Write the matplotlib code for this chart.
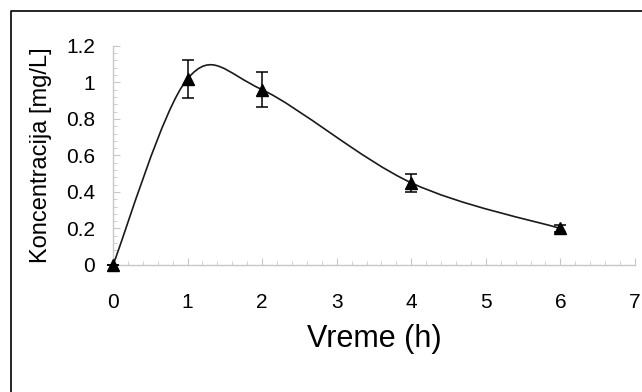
import matplotlib
matplotlib.use("Agg")
import matplotlib.pyplot as plt
import matplotlib.ticker as ticker
from matplotlib.path import Path
from matplotlib.patches import PathPatch
from matplotlib.lines import Line2D
import numpy as np

# podaci procitani sa grafika
vreme = [0, 1, 2, 4, 6]
koncentracija = [0.0, 1.02, 0.96, 0.45, 0.20]
sd = [0.0, 0.105, 0.095, 0.048, 0.02]

x_ticks = [0, 1, 2, 3, 4, 5, 6, 7]
y_ticks = [0, 0.2, 0.4, 0.6, 0.8, 1, 1.2]
y_tick_labels = ["0", "0.2", "0.4", "0.6", "0.8", "1", "1.2"]

plt.rcParams['font.family'] = ['Liberation Sans', 'DejaVu Sans']

fig = plt.figure(figsize=(6.42, 3.92), dpi=100)
ax = fig.add_axes([0.176, 0.324, 0.813, 0.559])

# glatka linija kao u Excel-u (Bezier kroz tacke)
pts = np.column_stack([vreme, koncentracija])
verts = [tuple(pts[0])]
codes = [Path.MOVETO]
n = len(pts)
for i in range(n - 1):
    p0 = pts[max(i - 1, 0)]
    p1 = pts[i]
    p2 = pts[i + 1]
    p3 = pts[min(i + 2, n - 1)]
    c1 = p1 + (p2 - p0) / 6
    c2 = p2 - (p3 - p1) / 6
    verts += [tuple(c1), tuple(c2), tuple(p2)]
    codes += [Path.CURVE4] * 3
ax.add_patch(PathPatch(Path(verts, codes), facecolor="none", edgecolor="#1a1a1a",
                       lw=1.2, clip_on=False, zorder=3))

ax.errorbar(vreme, koncentracija, yerr=sd, fmt="^", color="black", ms=8,
            ecolor="black", elinewidth=1.1, capsize=4.3, capthick=1.1,
            clip_on=False, zorder=4)

ax.set_xlim(0, 7)
ax.set_ylim(0, 1.2)
ax.set_xticks(x_ticks)
ax.set_yticks(y_ticks)
ax.set_yticklabels(y_tick_labels)
ax.xaxis.set_minor_locator(ticker.MultipleLocator(0.2))
ax.yaxis.set_minor_locator(ticker.MultipleLocator(0.04))

for s in ["top", "right"]:
    ax.spines[s].set_visible(False)
for s in ["bottom", "left"]:
    ax.spines[s].set_color("#c8c8c8")
    ax.spines[s].set_linewidth(1.0)

ax.tick_params(axis="x", which="major", direction="in", length=5, color="#c8c8c8",
               labelsize=15, pad=20)
ax.tick_params(axis="y", which="major", direction="in", length=5, color="#c8c8c8",
               labelsize=15, pad=13)
ax.tick_params(which="minor", direction="in", length=3, color="#c8c8c8")

ax.set_xlabel("Vreme (h)", fontsize=22, labelpad=9)
ax.set_ylabel("Koncentracija [mg/L]", fontsize=17, labelpad=10)

# okvir oko slike (samo gornja i leva ivica su vidljive)
fx = 11 / 642
fy = 1 - 11 / 392
fig.add_artist(Line2D([fx, fx, 1], [0, fy, fy], transform=fig.transFigure,
                      color="black", lw=1.2))

fig.savefig("out.png", dpi=100)
